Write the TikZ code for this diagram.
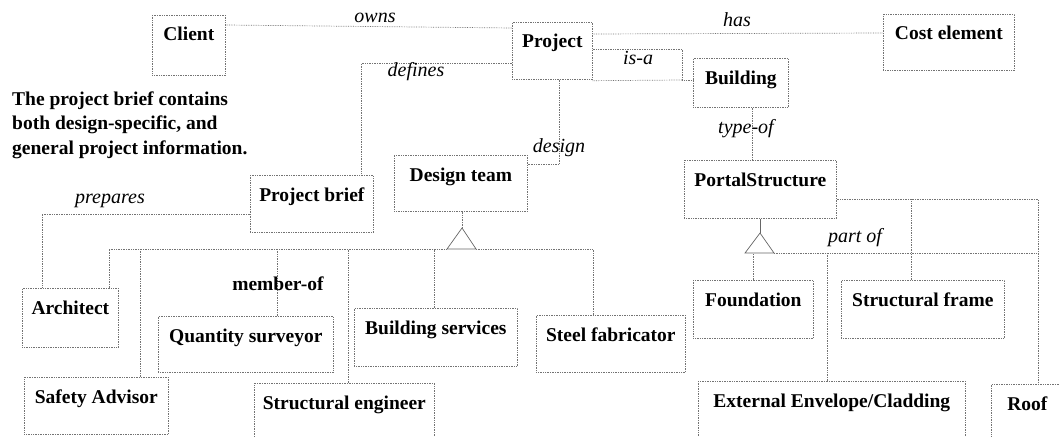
\documentclass[tikz,border=0pt]{standalone}
\usepackage{fontspec}
\setmainfont{Liberation Serif}
\newcommand\boxfont{\fontsize{19.5}{24.5}\selectfont\bfseries}
\newcommand\relfont{\fontsize{20}{24}\selectfont\itshape}
\begin{document}
\begin{tikzpicture}[x=1pt,y=-1pt,
  box/.style={draw=black!55, densely dotted, line width=0.7pt, anchor=north west, inner sep=0pt},
  title/.style={anchor=base, yshift=-26pt, inner sep=0pt, font=\boxfont, solid},
  rel/.style={anchor=base, inner sep=0pt, font=\relfont},
  link/.style={draw=black!55, densely dotted, line width=0.7pt},
  tri/.style={draw=black!60, line width=0.7pt, line join=miter}
]
\clip (0,0) rectangle (1059,436);

% classes
\node[box, minimum width=73pt,  minimum height=60pt, label={[title]north:Client}] (client) at (152,15) {};
\node[box, minimum width=80pt,  minimum height=57pt, label={[title]north:Project}] (project) at (512,22) {};
\node[box, minimum width=131pt, minimum height=56pt, label={[title]north:Cost element}] (cost) at (883,14) {};
\node[box, minimum width=95pt,  minimum height=49pt, label={[title]north:Building}] (building) at (693,58) {};
\node[box, minimum width=152pt, minimum height=58pt, label={[title]north:PortalStructure}] (portal) at (684,160) {};
\node[box, minimum width=133pt, minimum height=56pt, label={[title]north:Design team}] (designteam) at (394,155) {};
\node[box, minimum width=123pt, minimum height=57pt, label={[title]north:Project brief}] (brief) at (250,175) {};
\node[box, minimum width=96pt,  minimum height=59pt, label={[title]north:Architect}] (architect) at (22,288) {};
\node[box, minimum width=175pt, minimum height=56pt, label={[title]north:Quantity surveyor}] (qs) at (158,316) {};
\node[box, minimum width=144pt, minimum height=57pt, label={[title]north:Safety Advisor}] (safety) at (24,377) {};
\node[box, minimum width=180pt, minimum height=70pt, label={[title]north:Structural engineer}] (structeng) at (254,383) {};
\node[box, minimum width=163pt, minimum height=58pt, label={[title]north:Building services}] (bserv) at (354,308) {};
\node[box, minimum width=149pt, minimum height=57pt, label={[title]north:Steel fabricator}] (steel) at (536,315) {};
\node[box, minimum width=120pt, minimum height=58pt, label={[title]north:Foundation}] (foundation) at (693,280) {};
\node[box, minimum width=163pt, minimum height=58pt, label={[title]north:Structural frame}] (sframe) at (841,280) {};
\node[box, minimum width=267pt, minimum height=70pt, label={[title]north:External Envelope/Cladding}] (envelope) at (698,381) {};
\node[box, minimum width=72pt,  minimum height=70pt, label={[title]north:Roof}] (roof) at (991,384) {};

% note
\node[anchor=north west, inner sep=0pt, align=left, font=\boxfont] (note) at (12,91.5)
  {The project brief contains\\both design-specific, and\\general project information.};

% owns / has
\draw[link] ([yshift=-10pt]client.north east) -- ([yshift=-6pt]project.north west);
\node[rel] (owns) at (375,23) {owns};
\draw[link] ([yshift=-12pt]project.north east) -- ([yshift=-19pt]cost.north west);
\node[rel] (has) at (737,27) {has};

% is-a
\coordinate (isaC) at (682,80);
\draw[link] ([yshift=-27pt]project.north east) -| (isaC) -- ([yshift=-22pt]building.north west);
\draw[link] ([yshift=-1pt]project.south east) -- (isaC);
\node[rel] (isa) at (638,64) {is-a};

% defines
\draw[link] ([yshift=-41pt]project.north west) -| ([xshift=-12pt]brief.north east);
\node[rel] (defines) at (416,77) {defines};

% design
\draw[link] ([xshift=7pt]project.south) |- ([yshift=-9pt]designteam.north east);
\node[rel] (design) at (559,152) {design};

% type-of
\coordinate (typeTop) at ([xshift=11.5pt]building.south);
\draw[link] (typeTop) -- (typeTop |- portal.north);
\node[rel] (typeof) at (746,133) {type-of};

% prepares
\draw[link] ([yshift=-39pt]brief.north west) -| ([xshift=20pt]architect.north west);
\node[rel] (prepares) at (110,203) {prepares};

% design team membership
\coordinate (dtApex) at (462,228);
\coordinate (busL) at (109,249);
\coordinate (busR) at (593,249);
\draw[link] (dtApex |- designteam.south) -- (dtApex);
\draw[tri] (dtApex) -- (447,249) -- (476,249) -- cycle;
\draw[link] (busL) -- (447,249);
\draw[link] (476,249) -- (busR);
\coordinate (dArch)   at ([xshift=87pt]architect.north west);
\coordinate (dSafety) at ([xshift=116pt]safety.north west);
\coordinate (dQs)     at ([xshift=119pt]qs.north west);
\coordinate (dStruct) at ([xshift=94pt]structeng.north west);
\coordinate (dServ)   at ([xshift=80pt]bserv.north west);
\coordinate (dSteel)  at ([xshift=57pt]steel.north west);
\foreach \d in {dArch,dSafety,dQs,dStruct,dServ,dSteel}
  \draw[link] (\d) -- (\d |- busL);
\node[anchor=base, inner sep=0pt, font=\boxfont] (memberof) at (278,290) {member-of};

% portal structure parts
\coordinate (psApex) at (760,233);
\coordinate (psBase) at (774,253);
\draw[tri] (psApex |- portal.south) -- (psApex);
\draw[tri] (psApex) -- (745,253) -- (psBase) -- cycle;
\coordinate (dFound) at ([xshift=60pt]foundation.north west);
\coordinate (dRoof)  at ([xshift=47pt]roof.north west);
\coordinate (dFrame) at ([xshift=70pt]sframe.north west);
\coordinate (dEnv)   at ([xshift=129pt]envelope.north west);
\coordinate (partL)  at ([yshift=-39pt]portal.north east);
\draw[link] (dFound) -- (dFound |- psBase);
\draw[link] (partL) -| (dRoof);
\draw[link] (psBase) -- (psBase -| dRoof);
\draw[link] (dFrame) -- (dFrame |- partL);
\draw[link] (dEnv) -- (dEnv |- psBase);
\node[rel] (partof) at (855,242) {part of};
\end{tikzpicture}
\end{document}
